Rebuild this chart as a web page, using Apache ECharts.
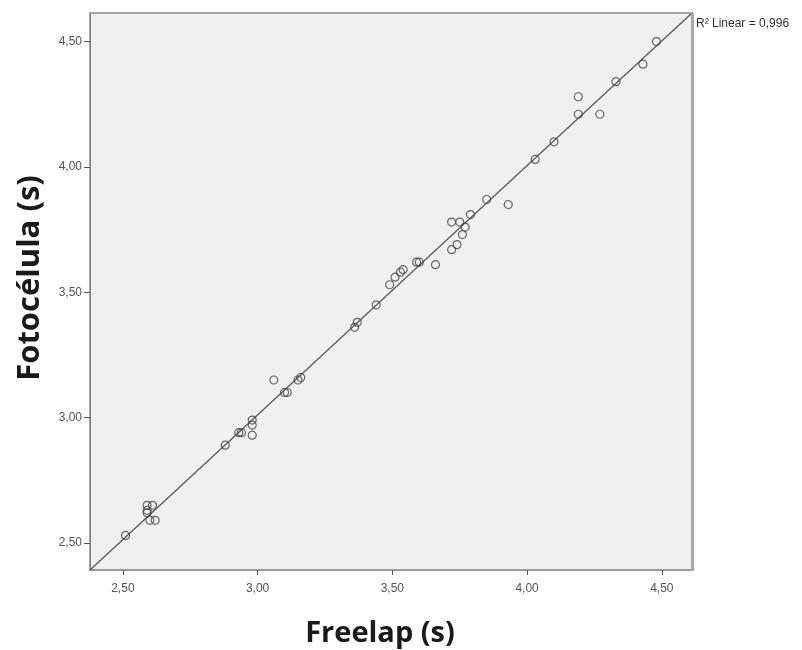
<!DOCTYPE html>
<html>
<head>
<meta charset="utf-8">
<script src="https://cdn.jsdelivr.net/npm/echarts@6/dist/echarts.min.js"></script>
<style>html,body{margin:0;padding:0;background:#fff;}#c{width:802px;height:650px;}</style>
</head>
<body>
<div id="c"></div>
<script>
// Freelap (s) vs Fotocélula (s)
const freelap = [2.51, 2.59, 2.59, 2.61, 2.59, 2.60, 2.62,
  2.88, 2.93, 2.94, 2.98, 2.98, 2.98, 3.06, 3.10, 3.11, 3.15, 3.16,
  3.36, 3.37, 3.44, 3.49, 3.51, 3.53, 3.54, 3.59, 3.60, 3.66,
  3.72, 3.74, 3.76, 3.77, 3.72, 3.75, 3.79, 3.85, 3.93,
  4.03, 4.10, 4.19, 4.19, 4.27, 4.33, 4.43, 4.48];
const fotocelula = [2.53, 2.65, 2.63, 2.65, 2.62, 2.59, 2.59,
  2.89, 2.94, 2.94, 2.99, 2.97, 2.93, 3.15, 3.10, 3.10, 3.15, 3.16,
  3.36, 3.38, 3.45, 3.53, 3.56, 3.58, 3.59, 3.62, 3.62, 3.61,
  3.67, 3.69, 3.73, 3.76, 3.78, 3.78, 3.81, 3.87, 3.85,
  4.03, 4.10, 4.28, 4.21, 4.21, 4.34, 4.41, 4.50];
const fitX = [2.378, 4.612];
const fitY = [2.392, 4.614];
const xTicks = [2.5, 3.0, 3.5, 4.0, 4.5];
const yTicks = [2.5, 3.0, 3.5, 4.0, 4.5];
const r2Label = 'R² Linear = 0,996';

const chart = echarts.init(document.getElementById('c'));
const fmt = v => v.toFixed(2).replace('.', ',');
chart.setOption({
  animation: false,
  grid: {left: 90, top: 13, right: 110, bottom: 80, show: true,
    backgroundColor: '#f0f0f0', borderColor: '#8c8c8c', borderWidth: 1.5},
  xAxis: {
    type: 'value', min: fitX[0], max: fitX[1],
    splitLine: {show: false},
    axisLine: {show: true, onZero: false, lineStyle: {color: '#9a9a9a', width: 2}},
    axisTick: {show: true, length: 5, customValues: xTicks, lineStyle: {color: '#555'}},
    axisLabel: {customValues: xTicks, formatter: fmt, color: '#555', fontSize: 12,
      fontFamily: 'Liberation Sans', margin: 13}
  },
  yAxis: {
    type: 'value', min: fitY[0], max: fitY[1],
    splitLine: {show: false},
    axisLine: {show: true, onZero: false, lineStyle: {color: '#7a7a7a', width: 1}},
    axisTick: {show: true, length: 6, customValues: yTicks, lineStyle: {color: '#555'}},
    axisLabel: {customValues: yTicks, formatter: fmt, color: '#555', fontSize: 12,
      fontFamily: 'Liberation Sans', margin: 8}
  },
  graphic: [
    {type: 'text', x: 380, y: 634, style: {text: 'Freelap (s)', font: 'bold 29px "Open Sans"',
      fill: '#1a1a1a', textAlign: 'center', textVerticalAlign: 'middle'}},
    {type: 'text', x: 30, y: 278, rotation: Math.PI / 2, style: {text: 'Fotocélula (s)',
      font: 'bold 31px "Open Sans"', fill: '#1a1a1a', textAlign: 'center', textVerticalAlign: 'middle'}},
    {type: 'rect', shape: {x: 691, y: 13, width: 3, height: 558}, style: {fill: '#a8a8a8'}, z: 10}
  ],
  series: [
    {
      type: 'line', data: fitX.map((x, i) => [x, fitY[i]]), symbol: 'none', silent: true,
      lineStyle: {color: '#555', width: 1.2}, z: 3,
      endLabel: {show: true, formatter: r2Label, fontSize: 12, color: '#333',
        fontFamily: 'Liberation Sans', offset: [-4, 11]}
    },
    {
      type: 'scatter', data: freelap.map((x, i) => [x, fotocelula[i]]),
      symbol: 'circle', symbolSize: 8, z: 4,
      itemStyle: {color: 'transparent', borderColor: '#444', borderWidth: 1.2}
    }
  ]
});
</script>
</body>
</html>
